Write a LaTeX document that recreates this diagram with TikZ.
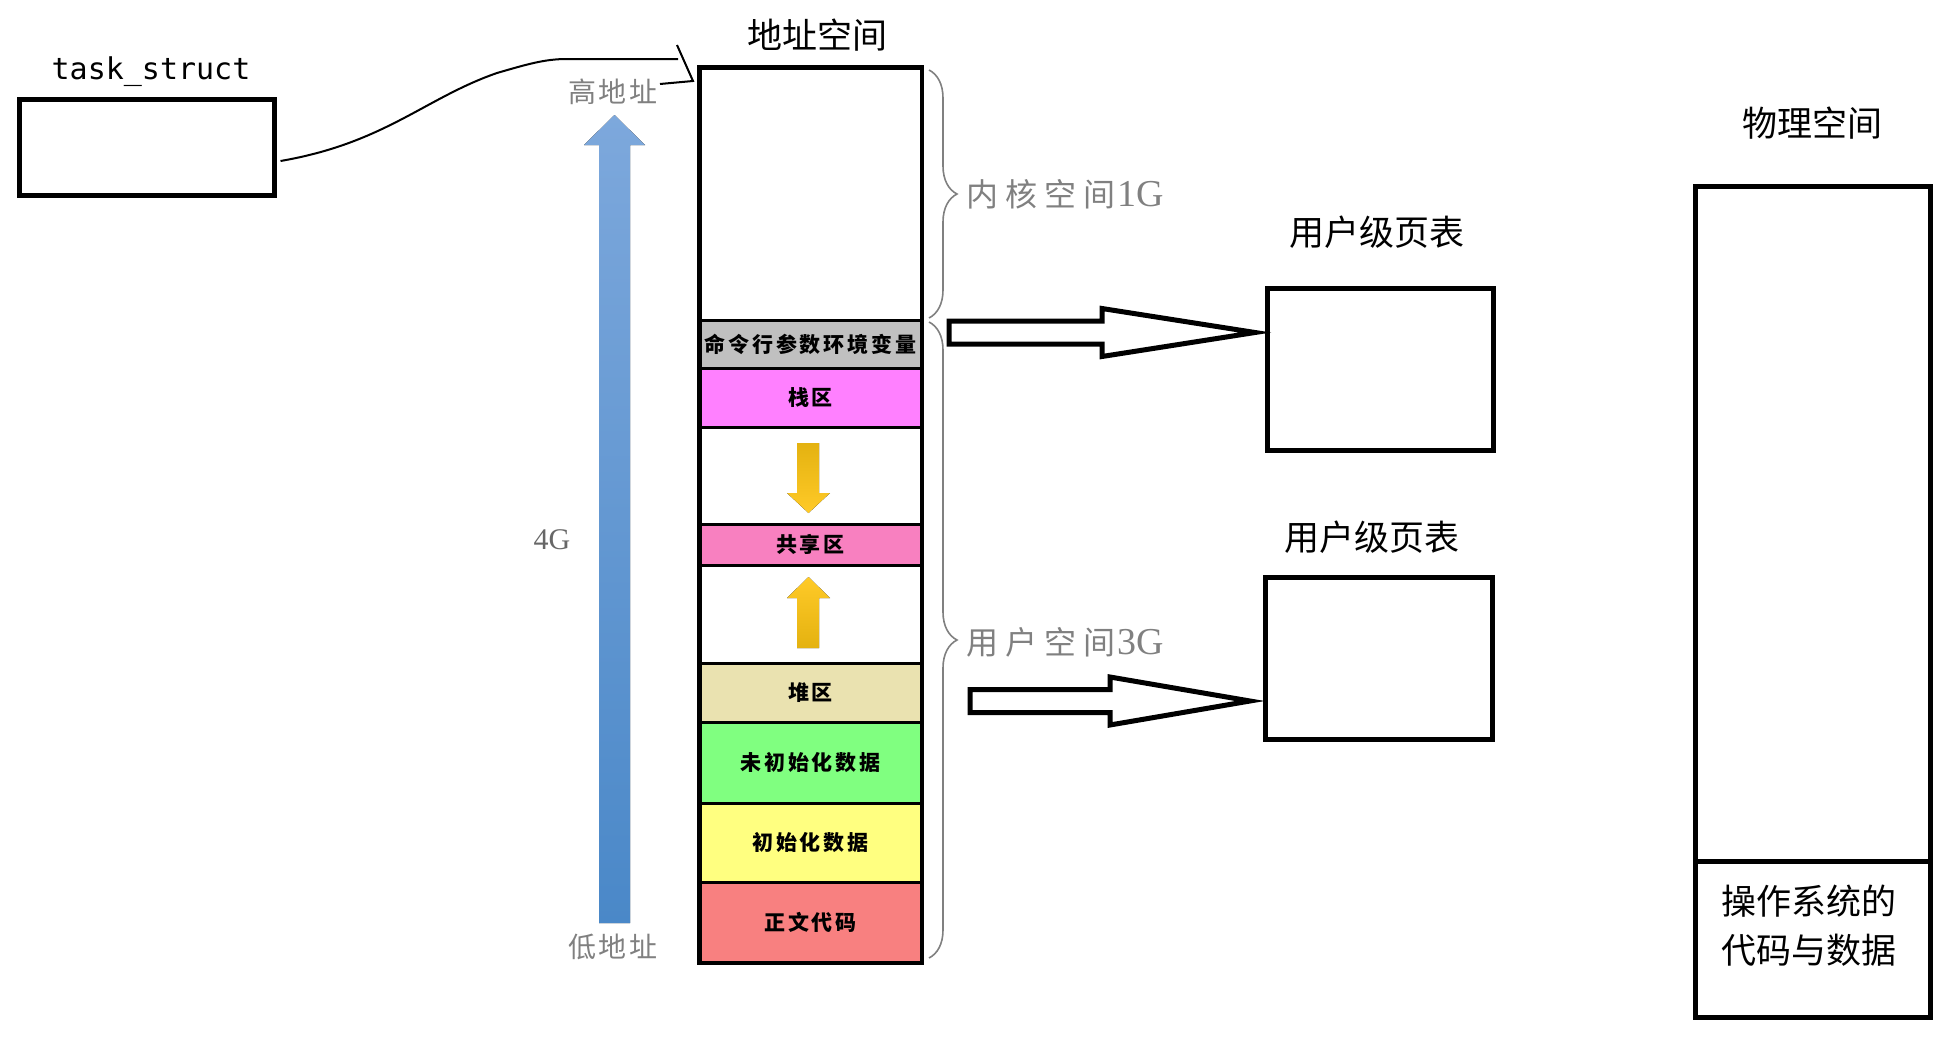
\documentclass[tikz,border=0pt]{standalone}
\usepackage{fontspec}
\setmainfont{Liberation Serif}
\newfontfamily\cjk{Noto Sans CJK SC}
\newfontfamily\cjkgap{Noto Sans CJK SC}[LetterSpace=22]
\newfontfamily\cjkaddr{Noto Sans CJK SC}[LetterSpace=8]
\newfontfamily\cjkseg{Noto Sans CJK SC}[LetterSpace=14]
\newfontfamily\mono{DejaVu Sans Mono}
\usetikzlibrary{calc, decorations.pathreplacing}

\definecolor{argsgray}{RGB}{192,192,192}
\definecolor{stackpink}{RGB}{255,128,255}
\definecolor{sharedpink}{RGB}{248,128,192}
\definecolor{heapbeige}{RGB}{234,226,176}
\definecolor{bssgreen}{RGB}{128,255,128}
\definecolor{datayellow}{RGB}{255,255,128}
\definecolor{codered}{RGB}{248,128,128}
\definecolor{labelgray}{RGB}{128,128,128}
\definecolor{bluetop}{RGB}{125,168,220}
\definecolor{bluebot}{RGB}{74,136,200}
\definecolor{goldlo}{RGB}{228,178,16}
\definecolor{goldhi}{RGB}{255,202,40}

\newcommand{\blockarrow}[3]{\draw[hollow] ($(#1)+(0,-11.5)$) -- ($(#2)+(-#3,-11.5)$) -- ($(#2)+(-#3,-24)$) -- (#2) -- ($(#2)+(-#3,24)$) -- ($(#2)+(-#3,11.5)$) -- ($(#1)+(0,11.5)$) -- cycle;}

\begin{document}
\begin{tikzpicture}[x=0.5pt, y=-0.5pt,
  box/.style={draw, line width=2.5pt, inner sep=0pt},
  seg/.style={draw, line width=1.5pt, inner sep=0pt, minimum width=110.5pt, font=\cjkseg\bfseries\fontsize{10.5pt}{12pt}\selectfont},
  title/.style={font=\cjk\fontsize{17.5pt}{21pt}\selectfont},
  addr/.style={text=labelgray, font=\cjkaddr\fontsize{14pt}{16pt}\selectfont},
  graylbl/.style={text=labelgray, anchor=west, inner sep=0pt, font=\cjkgap\fontsize{16pt}{18pt}\selectfont},
  hollow/.style={draw, fill=white, line width=2.5pt, line join=miter},
  brace/.style={decorate, decoration={brace, amplitude=14pt}, draw=labelgray, line width=0.8pt}]
\useasboundingbox (0,0) rectangle (1960,1044);

% task_struct
\node[font=\mono\fontsize{15pt}{18pt}\selectfont] (tasklbl) at (151,72) {task\_struct};
\node[box, minimum width=127.5pt, minimum height=48pt] (task) at (146.5,147) {};

% address space column
\node[title] (addrtitle) at (817,35) {地址空间};
\foreach \nm/\yc/\h/\col/\txt in {kern/194/252/white/{}, args/344/48/argsgray/命令行参数环境变量, stack/397.5/59/stackpink/栈区, gapa/475.5/97/white/{}, shared/544.5/41/sharedpink/共享区, gapb/614/98/white/{}, heap/692.5/59/heapbeige/堆区, bss/762.5/81/bssgreen/未初始化数据, data/842.5/79/datayellow/初始化数据, code/922/80/codered/正文代码}
  \node[seg, fill=\col, minimum height=\h*0.5pt] (\nm) at (810.5,\yc) {\txt};
\draw[line width=1.75pt] (kern.north west) rectangle (code.south east);

% growth arrows
\fill[top color=goldlo, bottom color=goldhi] (797,443) -- (819,443) -- (819,493) -- (830,493) -- (808.5,513) -- (787,493) -- (797,493) -- cycle;
\fill[top color=goldhi, bottom color=goldlo] (808.5,577) -- (830,598) -- (819,598) -- (819,648) -- (797,648) -- (797,598) -- (787,598) -- cycle;

% 4G arrow
\fill[top color=bluetop, bottom color=bluebot] (614.5,115) -- (645,145) -- (630,145) -- (630,923) -- (599,923) -- (599,145) -- (584,145) -- cycle;
\node[addr] (high) at (613,92) {高地址};
\node[addr] (low) at (613,947) {低地址};
\node[text=labelgray!80!black, font=\fontsize{15pt}{18pt}\selectfont] (four) at (552,540) {4G};

% braces
\draw[brace] (929,70) -- (929,318);
\draw[brace] (929,322) -- (929,958);
\node[graylbl] (kernlbl) at (966,194) {内核空间\kern1pt{\rmfamily\fontsize{19pt}{20pt}\selectfont 1G}};
\node[graylbl] (userlbl) at (966,642) {用户空间\kern1pt{\rmfamily\fontsize{19pt}{20pt}\selectfont 3G}};

% curve from task_struct
\coordinate (hookjoin) at (678,59);
\coordinate (hooktop) at (677,45);
\coordinate (hookbot) at (693,81);
\coordinate (hookend) at (660,84);
\draw[line width=1pt] ($(task.east)+(4,14)$) .. controls (385,143) and (425,98) .. (497,73) .. controls (528,64) and (545,59) .. (567,59) -- (hookjoin);
\draw[line width=1pt] (hooktop) -- (hookbot) -- (hookend);

% page tables
\node[title] (pt1lbl) at (1377,232) {用户级页表};
\node[box, minimum width=113pt, minimum height=81pt] (pt1) at (1380,369) {};
\node[title] (pt2lbl) at (1372,537) {用户级页表};
\node[box, minimum width=113.5pt, minimum height=81pt] (pt2) at (1378.5,658) {};
\coordinate (kerntail) at (949,332.5);
\coordinate (kerntip) at (1255,332.5);
\coordinate (usertail) at (970,701);
\coordinate (usertip) at (1250,701);
\blockarrow{kerntail}{kerntip}{153}
\blockarrow{usertail}{usertip}{140}

% physical space
\node[title] (phystitle) at (1812,123) {物理空间};
\node[box, minimum width=117.5pt, minimum height=337.5pt] (phys) at (1812.5,523.5) {};
\node[box, minimum width=117.5pt, minimum height=78pt] (os) at (1812.5,939) {};
\node[title, align=center, font=\cjk\fontsize{17.5pt}{24.5pt}\selectfont] (oslbl) at (1809,926) {操作系统的\\代码与数据};
\end{tikzpicture}
\end{document}
